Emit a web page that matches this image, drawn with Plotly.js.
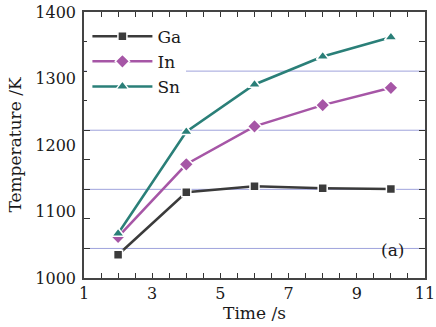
<!DOCTYPE html>
<html><head><meta charset="utf-8">
<script src="https://cdn.plot.ly/plotly-3.0.1.min.js"></script>
<style>html,body{margin:0;padding:0;background:#fff}</style>
</head><body><div id="chart" style="width:436px;height:327px"></div>
<script>
const time = [2, 4, 6, 8, 10];
const ga = [1035, 1129, 1138, 1135, 1134];
const inn = [1062, 1171, 1228, 1260, 1286];
const sn = [1067, 1220, 1291, 1333, 1362];
const seriesNames = ['Ga', 'In', 'Sn'];
const xTickVals = [1, 1.5, 2, 2.5, 3, 3.5, 4, 4.5, 5, 5.5, 6, 6.5, 7, 7.5, 8, 8.5, 9, 9.5, 10, 10.5, 11];
const xTickText = ['1', '', '', '', '3', '', '', '', '5', '', '', '', '7', '', '', '', '9', '', '', '', '11'];
const yLabelVals = [1000, 1100, 1200, 1300, 1400];
const yTickVals = [1000, 1044.44, 1088.89, 1133.33, 1177.78, 1222.22, 1266.67, 1311.11, 1355.56, 1400];
const gridVals = [1044.44, 1133.33, 1222.22, 1311.11];

const font = 'DejaVu Serif, Liberation Serif, serif';
const ink = '#1a1a1a';
function tr(y, name, color, symbol, size) {
  return {x: time, y: y, name: name, type: 'scatter', mode: 'lines+markers',
    line: {color: color, width: 2.5},
    marker: {symbol: symbol, size: size, color: color, line: {color: '#fff', width: 1.5}}};
}
const data = [
  tr(ga, seriesNames[0], '#3b3b3b', 'square', 9),
  tr(inn, seriesNames[1], '#a656a6', 'diamond', 11),
  tr(sn, seriesNames[2], '#2a7f78', 'triangle-up', 11),
  {x: time, y: ga, yaxis: 'y2', type: 'scatter', mode: 'markers', opacity: 0,
   showlegend: false, hoverinfo: 'skip', marker: {size: 1}}
];
const shapes = gridVals.map(v => ({type: 'line', xref: 'paper', yref: 'y', x0: 0, x1: 1, y0: v, y1: v,
  line: {color: '#9fa3dc', width: 1}, layer: 'below'}));
const layout = {
  width: 436, height: 327,
  margin: {l: 84, r: 11, t: 12, b: 49},
  paper_bgcolor: '#fff', plot_bgcolor: '#fff',
  font: {family: font, size: 15, color: ink},
  showlegend: true,
  legend: {x: 0.01, y: 0.975, xanchor: 'left', yanchor: 'top', bgcolor: '#fff', itemwidth: 60,
    font: {family: font, size: 17, color: ink}, tracegroupgap: 0},
  xaxis: {range: [1, 11], tickvals: xTickVals, ticktext: xTickText, ticks: 'inside', ticklen: 5,
    tickcolor: '#333', tickwidth: 1, showgrid: false, zeroline: false,
    showline: true, linecolor: '#444', linewidth: 2, mirror: 'ticks',
    tickfont: {family: font, size: 16, color: ink},
    title: {text: 'Time /s', font: {family: font, size: 17, color: ink}, standoff: 4}},
  yaxis: {range: [1000, 1400], tickvals: yTickVals, showticklabels: false, ticks: 'inside', ticklen: 6,
    tickcolor: '#333', tickwidth: 1, showgrid: false, zeroline: false,
    showline: true, linecolor: '#444', linewidth: 2, mirror: 'ticks',
    title: {text: 'Temperature /K', font: {family: font, size: 17, color: ink}, standoff: 56}},
  yaxis2: {overlaying: 'y', side: 'left', range: [1000, 1400], tickvals: yLabelVals, ticks: '',
    showgrid: false, zeroline: false, showline: false, ticklabelstandoff: 7,
    tickfont: {family: font, size: 16, color: ink}},
  shapes: shapes,
  annotations: [{text: '(a)', xref: 'paper', yref: 'paper', x: 0.945, y: 0.06, showarrow: false,
    font: {family: font, size: 17, color: ink}}]
};
Plotly.newPlot('chart', data, layout, {displayModeBar: false, staticPlot: true});
</script></body></html>
